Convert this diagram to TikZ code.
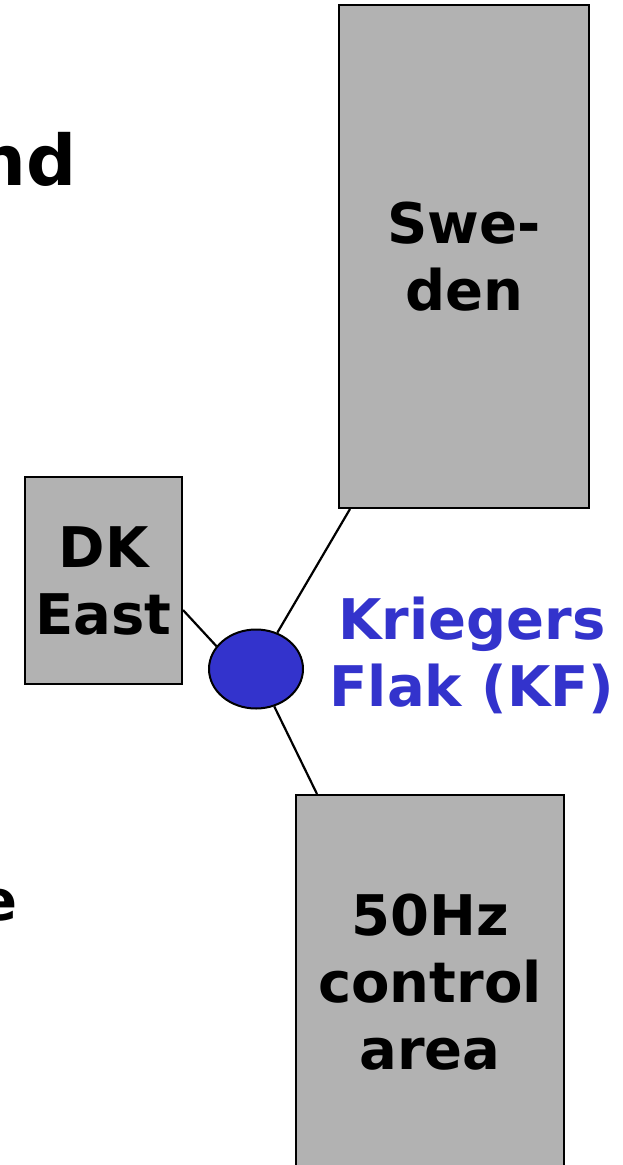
\documentclass[tikz,border=0pt]{standalone}
\usepackage{fontspec}
\usetikzlibrary{shapes.geometric}
\setmainfont{DejaVu Sans}
\definecolor{boxgray}{HTML}{B2B2B2}
\definecolor{kfblue}{HTML}{3333CC}
\tikzset{
  area/.style={draw=black, line width=2pt, fill=boxgray, inner sep=0pt, align=center},
  big/.style={font=\fontsize{56}{67}\selectfont\bfseries, inner sep=0pt, align=center},
  title/.style={font=\fontsize{70}{84}\selectfont\bfseries, inner sep=0pt},
  link/.style={draw=black, line width=2.2pt},
}
\begin{document}
\begin{tikzpicture}[x=1pt, y=-1pt]
\useasboundingbox (0,0) rectangle (622,1165);

% market areas
\node[area, big, minimum width=250pt, minimum height=503pt] (se) at (464,256.5) {Swe-\\den};
\node[area, big, minimum width=157pt, minimum height=207pt] (dk) at (103.5,580.5) {DK\\East};
\node[area, minimum width=268pt, minimum height=390pt] (de) at (430,990) {};
\node[big] (detext) at (430,982) {50Hz\\control\\area};

% offshore hub
\node[draw=black, line width=2pt, fill=kfblue, ellipse, minimum width=94pt, minimum height=79pt, inner sep=0pt] (kf) at (256,669) {};
\node[big, text=kfblue] (kftext) at (472,655) {Kriegers\\Flak (KF)};

% partial labels at left
\node[title, anchor=base east] (lefta) at (77,185) {nd};
\node[big, anchor=base east] (leftb) at (18,920) {e};

% connections
\draw[link] ([yshift=-29.5pt]dk.east) -- (kf.150);
\draw[link] ([xshift=12pt]se.south west) -- (kf);
\draw[link] ([xshift=22pt]de.north west) -- (kf);
\end{tikzpicture}
\end{document}
